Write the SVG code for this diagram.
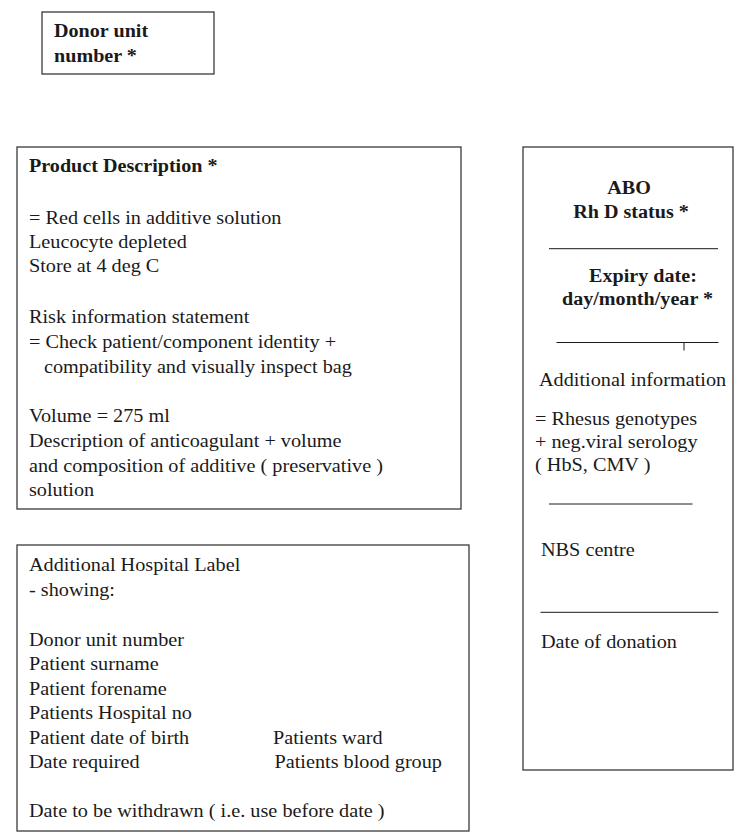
<svg xmlns="http://www.w3.org/2000/svg" width="741" height="833" viewBox="0 0 741 833">
<style>
  .box { fill: #ffffff; stroke: #3a3a3a; stroke-width: 1.3; }
  .rule { stroke: #1a1a1a; stroke-width: 1; fill: none; }
  text { font-family: "Liberation Serif", "Times New Roman", serif; fill: #1a1a1a; }
  .r { font-size: 18px; }
  .b { font-size: 19px; font-weight: bold; }
</style>
<rect x="0" y="0" width="741" height="833" fill="#ffffff"/>

<g id="donor-unit-number">
  <rect class="box" x="42" y="12" width="172" height="62"/>
  <g transform="translate(54,0) scale(1.06,1)">
    <text class="b" x="0" y="37">Donor unit</text>
    <text class="b" x="0" y="62">number *</text>
  </g>
</g>

<g id="product-description">
  <rect class="box" x="17" y="147" width="444" height="362"/>
  <g transform="translate(29,0) scale(1.06,1)">
    <text class="b" x="0" y="172.5">Product Description *</text>
  </g>
  <g transform="translate(29,0) scale(1.125,1)">
    <text class="r" x="0" y="224">= Red cells in additive solution</text>
    <text class="r" x="0" y="248">Leucocyte depleted</text>
    <text class="r" x="0" y="272.5">Store at 4 deg C</text>
    <text class="r" x="0" y="323">Risk information statement</text>
    <text class="r" x="0" y="348">= Check patient/component identity +</text>
    <text class="r" x="13.3" y="373">compatibility and visually inspect bag</text>
    <text class="r" x="0" y="422">Volume  = 275 ml</text>
    <text class="r" x="0" y="447">Description of anticoagulant + volume</text>
    <text class="r" x="0" y="472">and composition of additive  ( preservative )</text>
    <text class="r" x="0" y="496">solution</text>
  </g>
</g>

<g id="abo-label">
  <rect class="box" x="523" y="147" width="210" height="623"/>
  <g transform="translate(629,0) scale(1.06,1)">
    <text class="b" x="0" y="194" text-anchor="middle">ABO</text>
  </g>
  <g transform="translate(631,0) scale(1.06,1)">
    <text class="b" x="0" y="218" text-anchor="middle">Rh D status *</text>
  </g>
  <line class="rule" x1="549" y1="248.7" x2="718" y2="248.7"/>
  <g transform="translate(643,0) scale(1.06,1)">
    <text class="b" x="0" y="282" text-anchor="middle">Expiry date:</text>
  </g>
  <g transform="translate(637.5,0) scale(1.06,1)">
    <text class="b" x="0" y="305.5" text-anchor="middle">day/month/year *</text>
  </g>
  <line class="rule" x1="556.5" y1="342.5" x2="718.5" y2="342.5"/>
  <line class="rule" x1="684" y1="342.5" x2="684" y2="350.5"/>
  <g transform="translate(539,0) scale(1.125,1)">
    <text class="r" x="0" y="386.5">Additional information</text>
  </g>
  <g transform="translate(535,0) scale(1.125,1)">
    <text class="r" x="0" y="425">= Rhesus genotypes</text>
    <text class="r" x="0" y="448.5">+ neg.viral serology</text>
    <text class="r" x="0" y="471">( HbS, CMV )</text>
  </g>
  <line class="rule" x1="549" y1="504" x2="692.5" y2="504"/>
  <g transform="translate(541,0) scale(1.125,1)">
    <text class="r" x="0" y="556.5">NBS centre</text>
  </g>
  <line class="rule" x1="540.5" y1="612.3" x2="718.3" y2="612.3"/>
  <g transform="translate(541,0) scale(1.125,1)">
    <text class="r" x="0" y="648.5">Date of donation</text>
  </g>
</g>

<g id="hospital-label">
  <rect class="box" x="17" y="545" width="452" height="286"/>
  <g transform="translate(29,0) scale(1.125,1)">
    <text class="r" x="0" y="571.5">Additional Hospital Label</text>
    <text class="r" x="0" y="595.5">- showing:</text>
    <text class="r" x="0" y="646">Donor unit number</text>
    <text class="r" x="0" y="670.5">Patient surname</text>
    <text class="r" x="0" y="695.5">Patient forename</text>
    <text class="r" x="0" y="719.5">Patients Hospital no</text>
    <text class="r" x="0" y="744">Patient date of birth</text>
    <text class="r" x="0" y="768.5">Date required</text>
    <text class="r" x="0" y="817">Date to be withdrawn ( i.e. use before date )</text>
  </g>
  <g transform="translate(273,0) scale(1.125,1)">
    <text class="r" x="0" y="744">Patients ward</text>
  </g>
  <g transform="translate(274.5,0) scale(1.125,1)">
    <text class="r" x="0" y="768.5">Patients blood group</text>
  </g>
</g>

<g id="connectors"></g>
</svg>
